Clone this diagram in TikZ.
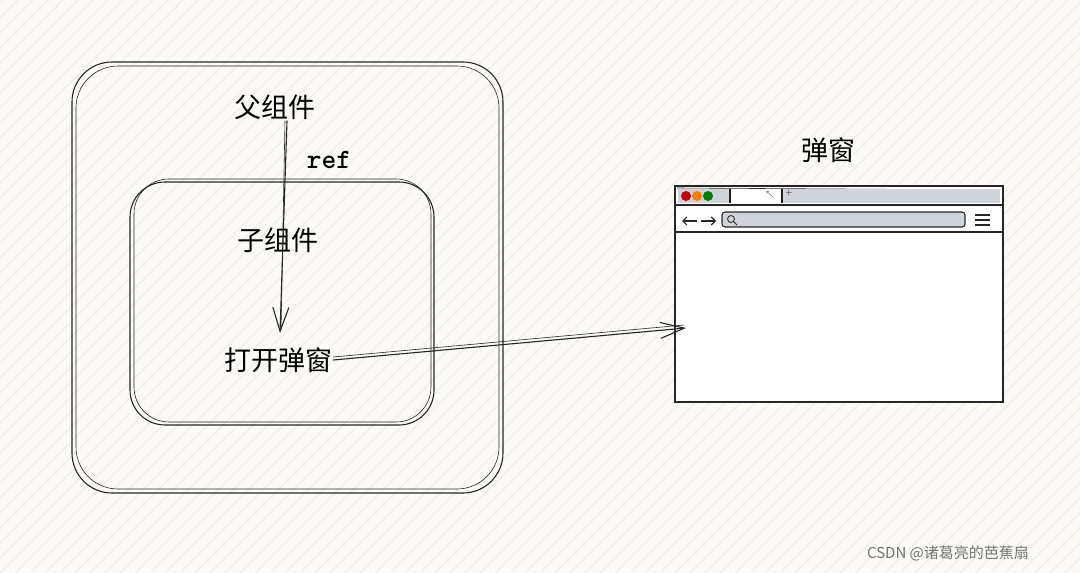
\documentclass[tikz,border=0pt]{standalone}
\usepackage{fontspec}
\newfontfamily\cjk{Noto Sans CJK SC}
\usetikzlibrary{arrows.meta}
\definecolor{bg}{HTML}{FCFBF7}
\definecolor{stripe}{HTML}{F1EEE2}
\definecolor{barg}{HTML}{CED4DA}
\tikzset{ink/.style={draw=black!85,line width=1.1pt},
 lbl/.style={font=\cjk\fontsize{27}{30}\selectfont,inner sep=1pt},
 arr/.style={ink,-{Straight Barb[length=24pt,width=16pt,line width=1.1pt]}}}
\begin{document}
\begin{tikzpicture}[x=1pt,y=-1pt]
\fill[bg] (0,0) rectangle (1080,573);
\useasboundingbox (0,0) rectangle (1080,573);
\begin{scope}
\clip (0,0) rectangle (1080,573);
\foreach \i in {-600,-585,...,1080} \draw[stripe,line width=1.2pt] (\i,573) -- (\i+573,0);
\end{scope}
% outer and inner boxes
\draw[ink,rounded corners=40] (72,62) rectangle (503,493);
\draw[ink,rounded corners=42,line width=0.6pt] (76,66) rectangle (499,489);
\draw[ink,rounded corners=35] (130,182) rectangle (434,425);
\draw[ink,rounded corners=35,line width=0.6pt] (134,179) rectangle (431,422);
\node[lbl] (p) at (275,107) {父组件};
\node[font=\ttfamily\bfseries\fontsize{28}{30}\selectfont] (r) at (329,160) {ref};
\node[lbl] (c) at (278,240) {子组件};
\node[lbl] (o) at (278,360) {打开弹窗};
\node[lbl] (w) at (828,150) {弹窗};
\coordinate (ae) at (280,333);
\draw[arr] (p.south) ++(12,0) -- (ae);
\draw[ink,line width=0.6pt] (p.south) ++(10,0) -- (281,330);
% browser
\draw[ink,fill=white] (675,186) rectangle (1003,402);
\draw[ink,line width=0.6pt] (677,188) -- (1000,190);
\fill[barg] (678,189) rectangle (730,203);
\fill[barg] (782,189) rectangle (1000,203);
\draw[ink] (730,189) -- (730,203) (782,189) -- (782,203);
\fill[red!75!black] (686,196) circle (5);
\fill[orange] (697,196) circle (5);
\fill[green!50!black] (708,196) circle (5);
\node[font=\scriptsize] (cur) at (770,195) {$\nwarrow$};
\node[font=\small] (plus) at (789,193) {+};
\draw[ink] (675,205) -- (1003,205);
\draw[ink,fill=barg,rounded corners=3] (722,212) rectangle (965,227);
\draw[ink,line width=0.8pt] (731,219) circle (3.5) (733,221) -- (737,225);
\draw[ink,-{Straight Barb[length=4pt]}] (697,221) -- (682,221);
\draw[ink,-{Straight Barb[length=4pt]}] (701,221) -- (716,221);
\draw[ink,line width=1.5pt] (975,215) -- (990,215) (975,220) -- (990,220) (975,225) -- (990,225);
\draw[ink] (675,232) -- (1003,232);
\coordinate (be) at (686,328);
\draw[arr] (o.east) -- (be);
\draw[ink,line width=0.6pt] ([yshift=3pt]o.east) -- (684,325);
\node[font=\cjk\fontsize{15}{18}\selectfont,text=black!55] (wm) at (948,553) {CSDN @诸葛亮的芭蕉扇};
\end{tikzpicture}
\end{document}
